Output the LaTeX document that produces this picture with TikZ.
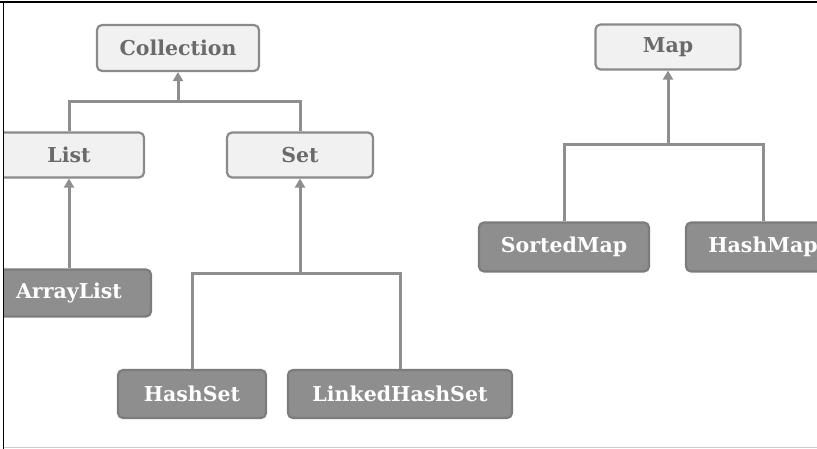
\documentclass[tikz,border=0pt]{standalone}
\usepackage{fontspec}
\setmainfont{DejaVu Serif}
\usetikzlibrary{arrows.meta}
\definecolor{lightfill}{HTML}{F1F1F1}
\definecolor{boxline}{HTML}{8A8A8A}
\definecolor{lighttext}{HTML}{6A6A6A}
\definecolor{darkfill}{HTML}{8E8E8E}
\definecolor{darkline}{HTML}{7C7C7C}
\definecolor{conncol}{HTML}{8E8E8E}
\tikzset{
  lightbox/.style={draw=boxline, line width=2.2pt, fill=lightfill, rounded corners=5pt,
    text=lighttext, font=\bfseries\fontsize{20.5}{24}\selectfont, inner sep=0pt},
  darkbox/.style={draw=darkline, line width=2.2pt, fill=darkfill, rounded corners=5pt,
    text=white, font=\bfseries\fontsize{20.5}{24}\selectfont, inner sep=0pt},
  conn/.style={draw=conncol, line width=3pt},
  arr/.style={conn, -{Triangle[width=10pt,length=9pt]}},
}
\begin{document}
\begin{tikzpicture}[x=1pt,y=-1pt]
\useasboundingbox (0,0) rectangle (817,449);
\fill[white] (0,0) rectangle (817,449);
\begin{scope}
\clip (4,3) rectangle (817,446);
\node[lightbox, minimum width=162pt, minimum height=46pt] (coll) at (178,48) {Collection};
\node[lightbox, minimum width=150pt, minimum height=45pt] (list) at (69,155) {List};
\node[lightbox, minimum width=146pt, minimum height=45pt] (set) at (300,155) {Set};
\node[darkbox, minimum width=164pt, minimum height=47pt] (alist) at (69,293) {ArrayList};
\node[darkbox, minimum width=148pt, minimum height=48pt] (hset) at (192,394) {HashSet};
\node[darkbox, minimum width=224pt, minimum height=48pt] (lhset) at (400,394) {LinkedHashSet};
\node[lightbox, minimum width=145pt, minimum height=45pt] (map) at (668,47) {Map};
\node[darkbox, minimum width=170pt, minimum height=49pt] (smap) at (564,247) {SortedMap};
\node[darkbox, minimum width=154pt, minimum height=49pt] (hmap) at (763,247) {HashMap};
\coordinate (j1) at (178,102);
\coordinate (j2) at (300,274);
\coordinate (j3) at (668,145);
\draw[conn] (list.north) |- (j1) -| (set.north);
\draw[arr] (j1) -- (coll.south);
\draw[arr] (alist.north) -- (list.south);
\draw[conn] (hset.north) |- (j2) -| (lhset.north);
\draw[arr] (j2) -- (set.south);
\draw[conn] (smap.north) |- (j3) -| (hmap.north);
\draw[arr] (j3) -- (map.south);
\end{scope}
\draw[black, line width=1.5pt] (0,2) -- (817,2);
\draw[black, line width=1.5pt] (3.5,2) -- (3.5,449);
\draw[gray!40, line width=1pt] (3.5,447) -- (817,447);
\end{tikzpicture}
\end{document}
